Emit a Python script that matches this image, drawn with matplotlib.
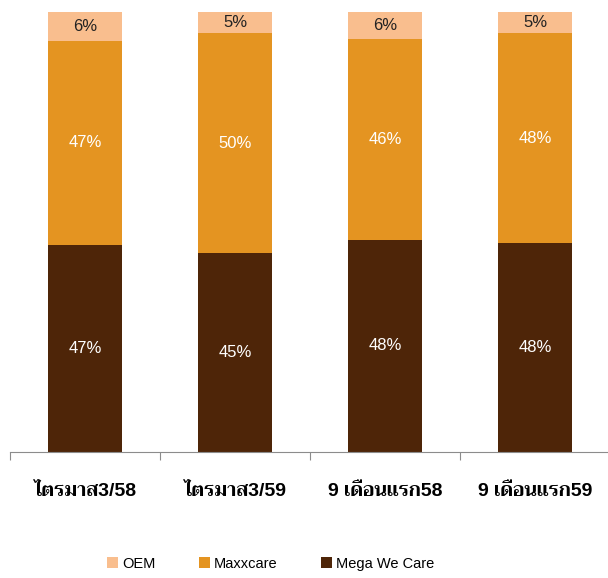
import numpy as np
import matplotlib
matplotlib.use("Agg")
import matplotlib.pyplot as plt

# data (share of sales, %)
categories = ["ไตรมาส3/58", "ไตรมาส3/59", "9 เดือนแรก58", "9 เดือนแรก59"]
mega_we_care = [47.0, 45.2, 48.2, 47.5]
maxxcare = [46.5, 50.0, 45.7, 47.7]
oem = [6.5, 4.8, 6.1, 4.8]
mega_labels = ["47%", "45%", "48%", "48%"]
maxx_labels = ["47%", "50%", "46%", "48%"]
oem_labels = ["6%", "5%", "6%", "5%"]

col_oem = "#F9BE8E"
col_maxx = "#E49421"
col_mega = "#4E2508"

# Trirong is the only installed font with Thai glyphs; latin digits from Liberation Sans
plt.rcParams["font.family"] = ["Liberation Sans", "Trirong", "DejaVu Sans"]

fig = plt.figure(figsize=(6.08, 5.78), dpi=100)
ax = fig.add_axes([10 / 608, 126 / 578, 600 / 608, 440 / 578])

x = np.arange(len(categories))
w = 0.49
b1 = ax.bar(x, mega_we_care, w, color=col_mega, label="Mega We Care")
bottom2 = np.array(mega_we_care)
b2 = ax.bar(x, maxxcare, w, bottom=bottom2, color=col_maxx, label="Maxxcare")
bottom3 = bottom2 + np.array(maxxcare)
b3 = ax.bar(x, oem, w, bottom=bottom3, color=col_oem, label="OEM")

ax.bar_label(b1, labels=mega_labels, label_type="center", color="white", fontsize=12)
ax.bar_label(b2, labels=maxx_labels, label_type="center", color="white", fontsize=12)
ax.bar_label(b3, labels=oem_labels, label_type="center", color="#222222", fontsize=12)

ax.set_xlim(-0.5, 3.5)
ax.set_ylim(0, 100)
ax.set_yticks([])
for s in ["top", "right", "left"]:
    ax.spines[s].set_visible(False)
ax.spines["bottom"].set_color("#8c8c8c")
ax.set_xticks(np.arange(-0.5, 4.0, 1.0))
ax.set_xticklabels([])
ax.tick_params(axis="x", length=6, color="#8c8c8c")
ax.set_xticks(x, minor=True)
ax.set_xticklabels(categories, minor=True, fontsize=14, fontweight="bold")
ax.tick_params(axis="x", which="minor", length=0, pad=22)

handles = [b3, b2, b1]
fig.legend(handles, ["OEM", "Maxxcare", "Mega We Care"], loc="center",
           bbox_to_anchor=(0.445, 0.025), ncol=3, frameon=False,
           prop={"size": 10.5},
           handlelength=0.75, handleheight=0.75, handletextpad=0.25, columnspacing=3.0)

fig.savefig("out.png", dpi=100)
